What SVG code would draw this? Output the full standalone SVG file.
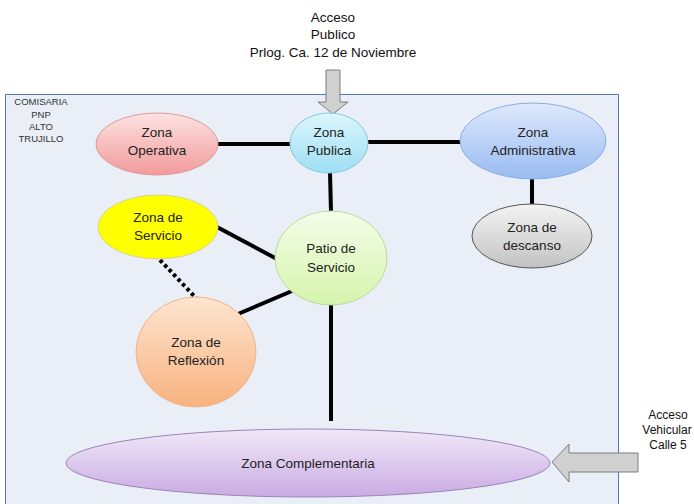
<svg xmlns="http://www.w3.org/2000/svg" width="694" height="504" viewBox="0 0 694 504">
<defs>
<style>
.lbl{font-family:"Liberation Sans",Arial,sans-serif;font-size:13.5px;fill:#222;text-anchor:middle}
.sm{font-family:"Liberation Sans",Arial,sans-serif;font-size:13.5px;fill:#111;text-anchor:middle}
.vs{font-family:"Liberation Sans",Arial,sans-serif;font-size:12px;fill:#111;text-anchor:middle}
.xs{font-family:"Liberation Sans",Arial,sans-serif;font-size:9.5px;fill:#333;text-anchor:middle}
.ln{stroke:#000;stroke-width:4;fill:none}
.arr{fill:#d0d0d0;stroke:#7f7f7f;stroke-width:1}
</style>
<linearGradient id="gRed" x1="0" y1="0" x2="0" y2="1"><stop offset="0" stop-color="#fde2e2"/><stop offset="1" stop-color="#f29a9a"/></linearGradient>
<linearGradient id="gCyan" x1="0" y1="0" x2="0" y2="1"><stop offset="0" stop-color="#dcf6fd"/><stop offset="1" stop-color="#9edff3"/></linearGradient>
<linearGradient id="gBlue" x1="0" y1="0" x2="0" y2="1"><stop offset="0" stop-color="#dfe9fc"/><stop offset="1" stop-color="#98bbf2"/></linearGradient>
<linearGradient id="gGray" x1="0" y1="0" x2="0" y2="1"><stop offset="0" stop-color="#f4f4f4"/><stop offset="1" stop-color="#c2c2c2"/></linearGradient>
<linearGradient id="gGreen" x1="0" y1="0" x2="0" y2="1"><stop offset="0" stop-color="#f4fde9"/><stop offset="1" stop-color="#d6f4ad"/></linearGradient>
<linearGradient id="gOrange" x1="0" y1="0" x2="0" y2="1"><stop offset="0" stop-color="#fde5d0"/><stop offset="1" stop-color="#f8b27f"/></linearGradient>
<linearGradient id="gPurple" x1="0" y1="0" x2="0" y2="1"><stop offset="0" stop-color="#f0e8f8"/><stop offset="1" stop-color="#caabe3"/></linearGradient>
</defs>
<rect x="0" y="0" width="694" height="504" fill="#fff"/>
<g id="frame">
<rect x="5.5" y="94.5" width="613" height="412" fill="#e9eef7" stroke="#5a78a8" stroke-width="1"/>
<text class="xs" x="41" y="105">COMISARIA</text>
<text class="xs" x="41" y="118">PNP</text>
<text class="xs" x="41" y="130">ALTO</text>
<text class="xs" x="41" y="142">TRUJILLO</text>
</g>
<g id="connectors">
<line class="ln" x1="218" y1="144" x2="290" y2="144"/>
<line class="ln" x1="368" y1="142" x2="461" y2="142"/>
<line class="ln" x1="330" y1="173" x2="331" y2="212"/>
<line class="ln" x1="532" y1="178" x2="532" y2="205"/>
<line class="ln" x1="217" y1="227" x2="277" y2="259"/>
<line class="ln" x1="238" y1="314" x2="292" y2="291"/>
<line class="ln" x1="331" y1="304" x2="331" y2="421"/>
<line x1="160" y1="260" x2="196" y2="298" stroke="#000" stroke-width="4" stroke-dasharray="3.5 3"/>
</g>
<g id="acceso-publico">
<text class="sm" x="333" y="22">Acceso</text>
<text class="sm" x="333" y="39">Publico</text>
<text class="sm" x="333" y="57">Prlog. Ca. 12 de Noviembre</text>
<path class="arr" d="M326,70 H340 V102 H348 L333,114 L318,102 H326 Z"/>
</g>
<g id="acceso-vehicular">
<text class="vs" x="668" y="419">Acceso</text>
<text class="vs" x="667" y="434">Vehicular</text>
<text class="vs" x="668" y="449">Calle 5</text>
<path class="arr" d="M638,453 V472 H569 V482 L552,462 L569,444 V453 Z"/>
</g>
<g id="zona-operativa">
<ellipse cx="157" cy="144" rx="61" ry="31" fill="url(#gRed)" stroke="#dc9c9c"/>
<text class="lbl" x="157" y="137">Zona</text>
<text class="lbl" x="157" y="155">Operativa</text>
</g>
<g id="zona-publica">
<ellipse cx="329" cy="143" rx="39" ry="30" fill="url(#gCyan)" stroke="#86c9e0"/>
<text class="lbl" x="329" y="137">Zona</text>
<text class="lbl" x="329" y="155">Publica</text>
</g>
<g id="zona-administrativa">
<ellipse cx="533" cy="141" rx="73" ry="38" fill="url(#gBlue)" stroke="#8aaee6"/>
<text class="lbl" x="533" y="137">Zona</text>
<text class="lbl" x="533" y="155">Administrativa</text>
</g>
<g id="zona-descanso">
<ellipse cx="532" cy="236" rx="60" ry="32" fill="url(#gGray)" stroke="#555"/>
<text class="lbl" x="532" y="232">Zona de</text>
<text class="lbl" x="532" y="250">descanso</text>
</g>
<g id="zona-servicio">
<ellipse cx="158" cy="227" rx="60" ry="32" fill="#ffff00" stroke="#d6d68a"/>
<text class="lbl" x="158" y="222">Zona de</text>
<text class="lbl" x="158" y="240">Servicio</text>
</g>
<g id="patio-servicio">
<ellipse cx="331" cy="258" rx="56" ry="47" fill="url(#gGreen)" stroke="#b9dc9a"/>
<text class="lbl" x="331" y="253">Patio de</text>
<text class="lbl" x="331" y="272">Servicio</text>
</g>
<g id="zona-reflexion">
<ellipse cx="196" cy="352" rx="60" ry="55" fill="url(#gOrange)" stroke="#f0b48a"/>
<text class="lbl" x="196" y="347">Zona de</text>
<text class="lbl" x="196" y="365">Reflexión</text>
</g>
<g id="zona-complementaria">
<ellipse cx="308" cy="463" rx="242" ry="34" fill="url(#gPurple)" stroke="#9c84b8"/>
<text class="lbl" x="308" y="468">Zona Complementaria</text>
</g>
</svg>
